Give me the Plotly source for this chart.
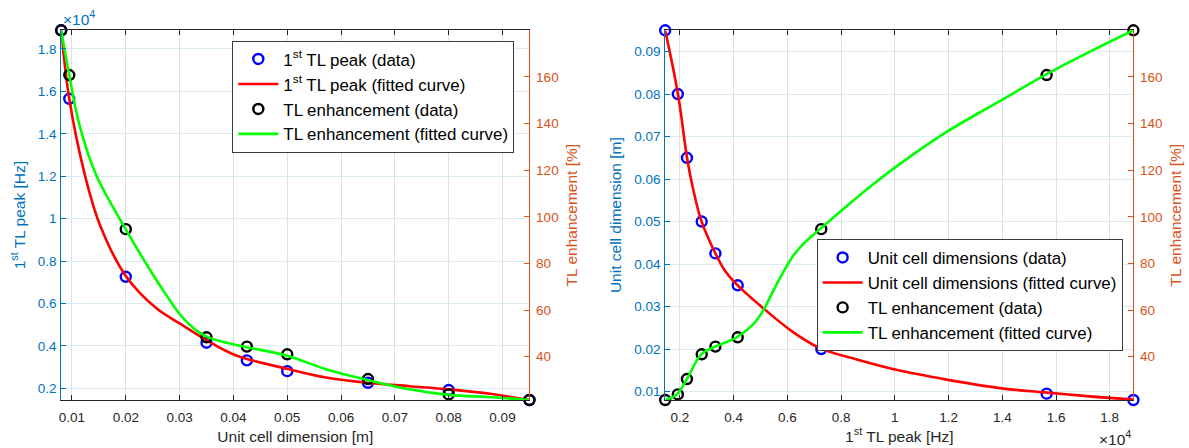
import plotly.graph_objects as go

# ---------------- data ----------------
unit_cell_dim = [0.008, 0.0095, 0.02, 0.035, 0.0425, 0.05, 0.065, 0.08, 0.095]
tl_peak_hz = [18880, 15650, 7260, 4150, 3320, 2810, 2260, 1920, 1450]
tl_enh = [180, 160.8, 94.7, 48.3, 44.3, 41.0, 30.4, 23.8, 21.4]

# fitted curves
fit1_dim = [0.008, 0.0095, 0.0124, 0.0152, 0.02, 0.0257, 0.03, 0.035, 0.0405, 0.05,
            0.0572, 0.0649, 0.0727, 0.08, 0.088, 0.095]
fit1_hz = [18880, 15650, 12060, 9700, 7300, 5770, 5060, 4270, 3550, 2920,
           2510, 2260, 2100, 1950, 1730, 1450]

fit2_dim = [0.008, 0.0095, 0.0114, 0.0145, 0.02, 0.0251, 0.0275, 0.03, 0.0325, 0.035,
            0.0405, 0.0425, 0.05, 0.0572, 0.0649, 0.0727, 0.08, 0.088, 0.095]
fit2_tl = [180, 160.7, 139.3, 117.9, 94.6, 75.0, 66.5, 58.3, 52.4, 48.6,
           45.0, 44.0, 40.4, 34.6, 30.0, 26.0, 23.6, 22.6, 21.4]

fit3_hz = [1450, 1926, 2259, 2481, 2793, 3311, 3656, 4111, 4952, 6185, 7211,
           8655, 10050, 11926, 13901, 15568, 17358, 18880]
fit3_dim = [0.095, 0.08, 0.0652, 0.0579, 0.0502, 0.0426, 0.0386, 0.0352, 0.0304,
            0.0241, 0.0202, 0.0174, 0.0151, 0.0128, 0.0108, 0.0098, 0.0088, 0.0081]

fit4_hz = [1450, 1889, 2259, 2793, 3311, 4111, 4704, 5074, 5570, 6185, 6650,
           7211, 8037, 9148, 10050, 11926, 13901, 15568, 17358, 18880]
fit4_tl = [21.4, 23.9, 30.4, 41.0, 44.3, 48.3, 53.6, 59.3, 70.4, 82.8, 89.0,
           94.7, 102.9, 113.5, 121.5, 136.4, 149.6, 160.7, 171.4, 180]

dim_ticks = ["0.01", "0.02", "0.03", "0.04", "0.05", "0.06", "0.07", "0.08", "0.09"]
hz_ticks_left = ["0.2", "0.4", "0.6", "0.8", "1", "1.2", "1.4", "1.6", "1.8"]
hz_ticks_right = ["0.2", "0.4", "0.6", "0.8", "1", "1.2", "1.4", "1.6", "1.8"]
tl_ticks = ["40", "60", "80", "100", "120", "140", "160"]

# ---------------- style ----------------
FONT = "Liberation Sans, Arial, sans-serif"
BLUE_AX = "#0072BD"
ORANGE_AX = "#D95319"
DARK = "#262626"
GRID_X = "#DFDFDF"
GRID_Y = "#DCEAF4"
TICK_SIZE = 13.5
TITLE_SIZE = 15.5
LEG_SIZE = 16.9

W, H = 1189, 448
def px_x(p):
    return p / W
def px_y(p):
    return 1 - p / H

L_DOM = [px_x(59.3), px_x(528.3)]
R_DOM = [px_x(664.3), px_x(1133.3)]
Y_DOM = [px_y(400), px_y(30.3)]

fig = go.Figure()

mk = dict(symbol="circle-open", size=10, line=dict(width=2.4))

# left panel
fig.add_trace(go.Scatter(x=unit_cell_dim, y=tl_peak_hz, mode="markers",
                         marker=dict(color="#0000FF", **mk), cliponaxis=False,
                         name="1<sup>st</sup> TL peak (data)", xaxis="x", yaxis="y",
                         legend="legend"))
fig.add_trace(go.Scatter(x=fit1_dim, y=fit1_hz, mode="lines",
                         line=dict(color="#FF0000", width=2.6, shape="spline", smoothing=1),
                         name="1<sup>st</sup> TL peak (fitted curve)", xaxis="x", yaxis="y",
                         legend="legend"))
fig.add_trace(go.Scatter(x=unit_cell_dim, y=tl_enh, mode="markers",
                         marker=dict(color="#000000", **mk), cliponaxis=False,
                         name="TL enhancement (data)", xaxis="x", yaxis="y2",
                         legend="legend"))
fig.add_trace(go.Scatter(x=fit2_dim, y=fit2_tl, mode="lines",
                         line=dict(color="#00FF00", width=2.6, shape="spline", smoothing=1),
                         name="TL enhancement (fitted curve)", xaxis="x", yaxis="y2",
                         legend="legend"))

# right panel
fig.add_trace(go.Scatter(x=tl_peak_hz, y=unit_cell_dim, mode="markers",
                         marker=dict(color="#0000FF", **mk), cliponaxis=False,
                         name="Unit cell dimensions (data)", xaxis="x2", yaxis="y3",
                         legend="legend2"))
fig.add_trace(go.Scatter(x=fit3_hz, y=fit3_dim, mode="lines",
                         line=dict(color="#FF0000", width=2.6, shape="spline", smoothing=1),
                         name="Unit cell dimensions (fitted curve)", xaxis="x2", yaxis="y3",
                         legend="legend2"))
fig.add_trace(go.Scatter(x=tl_peak_hz, y=tl_enh, mode="markers",
                         marker=dict(color="#000000", **mk), cliponaxis=False,
                         name="TL enhancement (data)", xaxis="x2", yaxis="y4",
                         legend="legend2"))
fig.add_trace(go.Scatter(x=fit4_hz, y=fit4_tl, mode="lines",
                         line=dict(color="#00FF00", width=2.6, shape="spline", smoothing=1),
                         name="TL enhancement (fitted curve)", xaxis="x2", yaxis="y4",
                         legend="legend2"))

def xaxis(dom, rng, ticks, vals, title, anchor):
    return dict(domain=dom, range=rng, anchor=anchor,
                tickmode="array", tickvals=vals, ticktext=ticks,
                ticks="inside", ticklen=5, tickcolor=DARK, tickwidth=1,
                ticklabelstandoff=5,
                showline=True, linecolor=DARK, linewidth=1, mirror="ticks",
                showgrid=True, gridcolor=GRID_X, gridwidth=1, zeroline=False,
                tickfont=dict(family=FONT, size=TICK_SIZE, color=DARK),
                title=dict(text=title, font=dict(family=FONT, size=TITLE_SIZE, color=DARK),
                           standoff=6))

def yaxis(rng, ticks, vals, title, color, side, anchor, overlaying=None, grid=True):
    d = dict(domain=Y_DOM, range=rng, anchor=anchor, side=side,
             tickmode="array", tickvals=vals, ticktext=ticks,
             ticks="inside", ticklen=5, tickcolor=color, tickwidth=1,
             ticklabelstandoff=(1 if side == "left" else 3),
             showline=True, linecolor=color, linewidth=1,
             showgrid=grid, gridcolor=GRID_Y, gridwidth=1, zeroline=False,
             tickfont=dict(family=FONT, size=TICK_SIZE, color=color),
             title=dict(text=title, font=dict(family=FONT, size=TITLE_SIZE, color=color),
                        standoff=8))
    if overlaying:
        d["overlaying"] = overlaying
    return d

dim_vals = [float(t) for t in dim_ticks]
hzl_vals = [float(t) * 1e4 for t in hz_ticks_left]
hzr_vals = [float(t) * 1e4 for t in hz_ticks_right]
tl_vals = [float(t) for t in tl_ticks]

legend_style = dict(bgcolor="white", bordercolor="#3a3a3a", borderwidth=1,
                    font=dict(family=FONT, size=LEG_SIZE, color="#000000"),
                    itemwidth=40, tracegroupgap=0, xanchor="left", yanchor="top",
                    itemclick=False)

fig.update_layout(
    width=W, height=H, autosize=False,
    margin=dict(l=0, r=0, t=0, b=0),
    paper_bgcolor="white", plot_bgcolor="white",
    font=dict(family=FONT, color=DARK),
    xaxis=xaxis(L_DOM, [0.008, 0.095], dim_ticks, dim_vals,
                "Unit cell dimension [m]", "y"),
    yaxis=yaxis([1450, 18880], hz_ticks_left, hzl_vals,
                "1<sup>st</sup> TL peak [Hz]", BLUE_AX, "left", "x"),
    yaxis2=yaxis([21.4, 180], tl_ticks, tl_vals, "TL enhancement [%]",
                 ORANGE_AX, "right", "x", overlaying="y", grid=False),
    xaxis2=xaxis(R_DOM, [1450, 18880], hz_ticks_right, hzr_vals,
                 "1<sup>st</sup> TL peak [Hz]", "y3"),
    yaxis3=yaxis([0.008, 0.095], dim_ticks, dim_vals, "Unit cell dimension [m]",
                 BLUE_AX, "left", "x2"),
    yaxis4=yaxis([21.4, 180], tl_ticks, tl_vals, "TL enhancement [%]",
                 ORANGE_AX, "right", "x2", overlaying="y3", grid=False),
    legend=dict(x=px_x(230.7), y=px_y(40.5), **legend_style),
    legend2=dict(x=px_x(816), y=px_y(239), **legend_style),
    showlegend=True,
)

fig.add_annotation(text="×10<sup>4</sup>", xref="paper", yref="paper",
                   x=L_DOM[0], y=Y_DOM[1], xanchor="left", yanchor="bottom",
                   showarrow=False, font=dict(family=FONT, size=15.5, color=BLUE_AX))
fig.add_annotation(text="×10<sup>4</sup>", xref="paper", yref="paper",
                   x=R_DOM[1], y=px_y(426), xanchor="right", yanchor="top",
                   showarrow=False, font=dict(family=FONT, size=15.5, color=DARK))

fig.write_html("out.html", config={"displayModeBar": False},
               post_script="document.body.style.margin='0px';document.body.style.padding='0px';")
